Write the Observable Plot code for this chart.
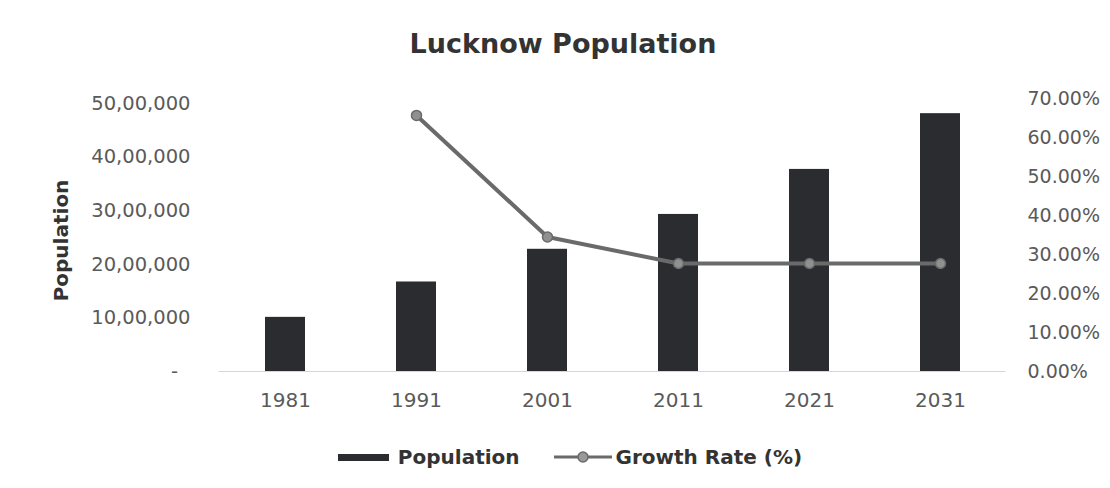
<!DOCTYPE html>
<html>
<head>
<meta charset="utf-8">
<script src="https://cdn.jsdelivr.net/npm/d3@7"></script>
<script src="https://cdn.jsdelivr.net/npm/@observablehq/plot@0.6"></script>
<style>
  html, body { margin: 0; padding: 0; background: #ffffff; }
  body { width: 1110px; height: 488px; overflow: hidden; font-family: "DejaVu Sans", sans-serif; }
  #title { height: 80px; box-sizing: border-box; padding-top: 27px; text-align: center; padding-left: 16px;
           font-size: 27px; font-weight: bold; color: #333333; line-height: 34px; }
  #chart { height: 360px; position: relative; }
  #legend { height: 48px; display: flex; align-items: center; justify-content: center; padding-left: 30px;
            box-sizing: border-box; padding-bottom: 14px; font-size: 20px; font-weight: bold; color: #333333; }
  .sw { display: inline-block; width: 51px; height: 7px; background: #2b2c30; margin-right: 9px; }
  .item { display: flex; align-items: center; }
</style>
</head>
<body>
<div id="title">Lucknow Population</div>
<div id="chart"></div>
<div id="legend">
  <div class="item"><span class="sw"></span><span>Population</span></div>
  <div class="item" style="margin-left:34px">
    <svg width="58" height="14" style="margin-right:4px"><line x1="0" y1="7" x2="58" y2="7" stroke="#6a6a6a" stroke-width="3"/><circle cx="29" cy="7" r="5" fill="#999" stroke="#6a6a6a" stroke-width="1.5"/></svg>
    <span>Growth Rate (%)</span>
  </div>
</div>
<script>
const years = ["1981", "1991", "2001", "2011", "2021", "2031"];
const population = [1010000, 1670000, 2280000, 2930000, 3770000, 4810000];
const growthRate = [null, 65.66, 34.5, 27.7, 27.7, 27.7];
const leftTicks = [0, 1000000, 2000000, 3000000, 4000000, 5000000];
const rightTicks = [0, 10, 20, 30, 40, 50, 60, 70];

const yMax = 5093000;
const rMax = 70;

function indian(n) {
  if (n === 0) return "-\u00a0\u00a0";
  const s = String(Math.round(n));
  const last3 = s.slice(-3);
  const rest = s.slice(0, -3);
  return rest.replace(/\B(?=(\d{2})+(?!\d))/g, ",") + "," + last3;
}

const bars = years.map((y, i) => ({year: y, pop: population[i]}));
const growth = years.map((y, i) => ({year: y, rate: growthRate[i]})).filter(d => d.rate != null);

const plot = Plot.plot({
  width: 1110,
  height: 360,
  marginTop: 18,
  marginBottom: 69,
  marginLeft: 218.5,
  marginRight: 104.5,
  style: {fontFamily: "DejaVu Sans, sans-serif", background: "transparent"},
  x: {domain: years, paddingInner: 0.695, paddingOuter: 0.3475, axis: null},
  y: {domain: [0, yMax], axis: null},
  marks: [
    Plot.axisY(leftTicks, {anchor: "left", tickSize: 0, tickPadding: 28.5, tickFormat: indian, fontSize: 19.5, fill: "#5a5a5a", label: null}),
    Plot.axisY(rightTicks.map(v => v / rMax * yMax), {anchor: "right", tickSize: 0, tickPadding: 21.5, fontSize: 19, fill: "#5a5a5a", label: null,
      tickFormat: d => Math.round(d / yMax * rMax).toFixed(2) + "%"}),
    Plot.axisX({tickSize: 0, tickPadding: 21, fontSize: 20, fill: "#5a5a5a", label: null}),
    Plot.ruleY([0], {stroke: "#d6d6d6", strokeWidth: 1.2}),
    Plot.barY(bars, {x: "year", y: "pop", fill: "#2b2c30"}),
    Plot.line(growth, {x: "year", y: d => d.rate / rMax * yMax, stroke: "#6a6a6a", strokeWidth: 4}),
    Plot.dot(growth, {x: "year", y: d => d.rate / rMax * yMax, r: 5, fill: "#909090", stroke: "#6a6a6a", strokeWidth: 1.5}),
    Plot.text(["Population"], {frameAnchor: "left", textAnchor: "middle", dx: -157.5, dy: 5.5, rotate: -90, fontSize: 20, fontWeight: "bold", fill: "#333333"})
  ]
});
document.getElementById("chart").appendChild(plot);
</script>
</body>
</html>
